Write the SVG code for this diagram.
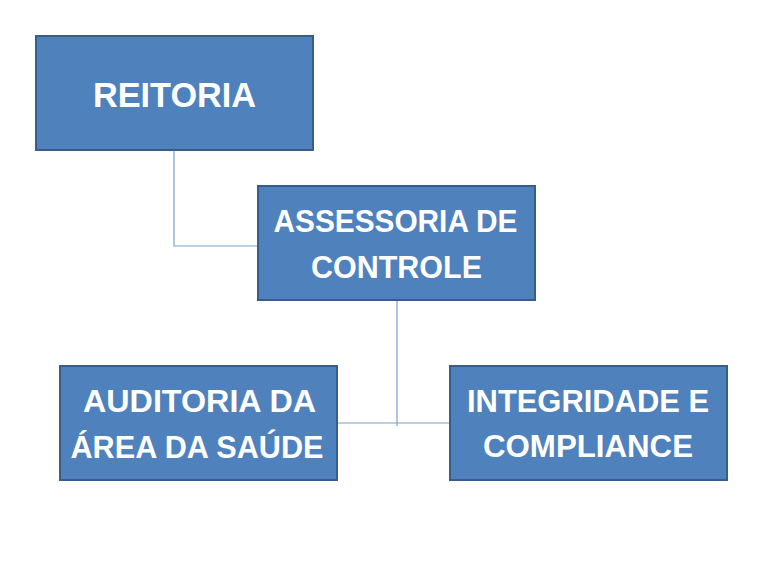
<svg xmlns="http://www.w3.org/2000/svg" width="768" height="576" viewBox="0 0 768 576">
<style>
.box{fill:#4F81BD;stroke:#385D8A;stroke-width:2}
.t{fill:#FFFFFF;font-family:"Liberation Sans",Arial,sans-serif;font-weight:bold;font-size:32px;text-anchor:middle}
.c{fill:none;stroke:#7BA0CD;stroke-width:1.2}
</style>
<rect width="768" height="576" fill="#FFFFFF"/>
<g id="connectors">
<polyline class="c" points="174,151 174,246 258,246"/>
<line class="c" x1="397" y1="300" x2="397" y2="426"/>
<line class="c" x1="337" y1="423" x2="450" y2="423"/>
</g>
<g id="reitoria">
<rect class="box" x="36" y="36" width="277" height="114"/>
<text class="t" x="174.5" y="107" style="font-size:35px" textLength="163" lengthAdjust="spacingAndGlyphs">REITORIA</text>
</g>
<g id="assessoria">
<rect class="box" x="258" y="186" width="277" height="114"/>
<text class="t" x="395.5" y="232" textLength="244" lengthAdjust="spacingAndGlyphs">ASSESSORIA DE</text>
<text class="t" x="396.5" y="278" textLength="171" lengthAdjust="spacingAndGlyphs">CONTROLE</text>
</g>
<g id="auditoria">
<rect class="box" x="60" y="366" width="277" height="114"/>
<text class="t" x="199.5" y="412" textLength="233" lengthAdjust="spacingAndGlyphs">AUDITORIA DA</text>
<text class="t" x="197" y="458" textLength="253" lengthAdjust="spacingAndGlyphs">ÁREA DA SAÚDE</text>
</g>
<g id="integridade">
<rect class="box" x="450" y="366" width="277" height="114"/>
<text class="t" x="588" y="412" textLength="242" lengthAdjust="spacingAndGlyphs">INTEGRIDADE E</text>
<text class="t" x="588" y="457" textLength="210" lengthAdjust="spacingAndGlyphs">COMPLIANCE</text>
</g>
</svg>
